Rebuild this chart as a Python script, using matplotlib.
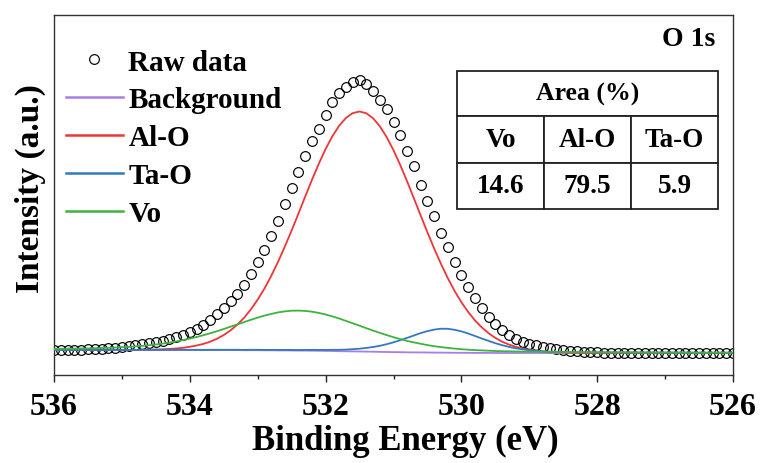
import numpy as np
import matplotlib
matplotlib.use("Agg")
import matplotlib.pyplot as plt

# ---------------- data (a.u.) ----------------
energy = np.round(np.linspace(536.0, 526.0, 101), 2)   # binding energy, eV, 0.1 eV step

raw_data = [1, 1, 1, 1.5, 1.5, 2, 2, 2.5, 3, 3.5,
            4.5, 5, 6, 7, 8, 9, 10, 12, 14, 16,
            19, 22, 26, 31, 37, 43, 50, 57, 66, 77,
            89, 101, 115, 130, 147, 163, 179, 195, 210, 222,
            236, 249, 258, 264, 269, 271, 267, 260, 251, 242,
            229, 216, 200, 185, 166, 150, 135, 118, 104, 89,
            76, 64, 53, 43, 34, 27, 21, 16, 12, 9,
            7, 6, 4.5, 3.5, 2.5, 1.5, 0.5, 0, -0.5, -1,
            -1.2, -1.5, -1.5, -1.5, -1.5, -1.5, -2, -2, -2, -2,
            -2, -2, -2, -2, -2, -2, -2, -2, -2, -2, -2]

background = [1, 1, 1, 1, 1, 1, 1, 1, 1, 1,
              1, 1, 1, 1, 1, 1, 1, 1, 1, 1,
              1, 1, 0.9, 0.9, 0.9, 0.9, 0.9, 0.9, 0.8, 0.8,
              0.8, 0.7, 0.7, 0.6, 0.6, 0.5, 0.4, 0.4, 0.3, 0.2,
              0.1, 0, -0.2, -0.3, -0.4, -0.5, -0.6, -0.7, -0.9, -1,
              -1.1, -1.2, -1.3, -1.4, -1.4, -1.5, -1.6, -1.6, -1.7, -1.8,
              -1.8, -1.8, -1.9, -1.9, -1.9, -2, -2, -2, -2, -2,
              -2, -2, -2, -2, -2, -2, -2, -2, -2, -2,
              -2, -2, -2, -2, -2, -2, -2, -2, -2, -2,
              -2, -2, -2, -2, -2, -2, -2, -2, -2, -2, -2]

al_o = [1, 1, 1, 1, 1, 1, 1, 1, 1, 1,
        1, 1.1, 1.1, 1.2, 1.3, 1.5, 1.7, 2.1, 2.5, 3.2,
        4.2, 5.5, 7.1, 9.3, 12.2, 16.0, 20.6, 26.4, 33.3, 41.6,
        51.4, 62.5, 75.2, 89.2, 104.5, 120.6, 137.4, 154.5, 171.3, 187.3,
        202.0, 214.8, 225.3, 233.1, 237.9, 239.5, 237.7, 232.7, 224.6, 213.8,
        200.8, 185.9, 169.7, 152.7, 135.6, 118.6, 102.3, 87.0, 72.8, 60.0,
        48.8, 39.0, 30.6, 23.6, 17.8, 13.1, 9.3, 6.4, 4.2, 2.5,
        1.2, 0.2, -0.5, -0.9, -1.3, -1.5, -1.7, -1.8, -1.9, -1.9,
        -2, -2, -2, -2, -2, -2, -2, -2, -2, -2,
        -2, -2, -2, -2, -2, -2, -2, -2, -2, -2, -2]

ta_o = [1.1, 1.1, 1.1, 1.1, 1.1, 1.1, 1.1, 1.1, 1.1, 1.1,
        1.1, 1.1, 1.1, 1.2, 1.2, 1.2, 1.2, 1.2, 1.2, 1.2,
        1.2, 1.2, 1.1, 1.2, 1.2, 1.2, 1.2, 1.2, 1.1, 1.2,
        1.2, 1.1, 1.1, 1.1, 1.1, 1.1, 1.0, 1.1, 1.1, 1.1,
        1.1, 1.2, 1.2, 1.4, 1.8, 2.3, 3.1, 4.0, 5.2, 6.8,
        8.7, 10.8, 13.1, 15.5, 17.9, 19.9, 21.4, 22.3, 22.2, 21.2,
        19.6, 17.5, 15.0, 12.5, 10.1, 7.8, 5.8, 4.1, 2.7, 1.7,
        0.8, 0.2, -0.3, -0.6, -0.8, -1.0, -1.2, -1.3, -1.3, -1.4,
        -1.5, -1.5, -1.5, -1.6, -1.6, -1.6, -1.6, -1.7, -1.7, -1.7,
        -1.7, -1.7, -1.8, -1.8, -1.8, -1.8, -1.8, -1.8, -1.8, -1.8, -1.8]

v_o = [2.1, 2.2, 2.3, 2.4, 2.5, 2.6, 2.8, 3, 3.2, 3.4,
       3.8, 4.1, 4.6, 5.1, 5.8, 6.5, 7.4, 8.4, 9.6, 10.9,
       12.4, 14, 15.8, 17.7, 19.8, 22, 24.3, 26.6, 28.9, 31.2,
       33.4, 35.4, 37.1, 38.6, 39.6, 40.3, 40.4, 40.1, 39.3, 38.1,
       36.5, 34.6, 32.5, 30.1, 27.7, 25.3, 22.8, 20.4, 18.1, 15.9,
       13.8, 11.9, 10.1, 8.6, 7.2, 5.9, 4.8, 3.9, 3.1, 2.4,
       1.8, 1.3, 0.9, 0.6, 0.3, 0, -0.2, -0.3, -0.5, -0.6,
       -0.7, -0.8, -0.8, -0.9, -1, -1, -1.1, -1.1, -1.2, -1.2,
       -1.2, -1.3, -1.3, -1.3, -1.3, -1.4, -1.4, -1.4, -1.4, -1.5,
       -1.5, -1.5, -1.5, -1.5, -1.5, -1.6, -1.6, -1.6, -1.6, -1.6, -1.6]

series_labels = ["Raw data", "Background", "Al-O", "Ta-O", "Vo"]
table_header = "Area (%)"
table_columns = ["Vo", "Al-O", "Ta-O"]
table_values = ["14.6", "79.5", "5.9"]
x_ticks = [536, 534, 532, 530, 528, 526]
x_minor_ticks = [535, 533, 531, 529, 527]

# ---------------- style ----------------
plt.rcParams["font.family"] = ["Liberation Serif", "DejaVu Serif"]
plt.rcParams["font.weight"] = "bold"

c_bg = "#a77ee6"
c_alo = "#ef3535"
c_tao = "#3379c2"
c_vo = "#3fb23f"

fig = plt.figure(figsize=(7.64, 4.64), dpi=100)
ax = fig.add_axes([54 / 764, (464 - 376) / 464, 679 / 764, 360 / 464])

ax.plot(energy, raw_data, linestyle="none", marker="o", markersize=7,
        markerfacecolor="none", markeredgecolor="black", markeredgewidth=0.85,
        label=series_labels[0], zorder=2)
ax.plot(energy, background, color=c_bg, lw=1.3, label=series_labels[1], zorder=3)
ax.plot(energy, al_o, color=c_alo, lw=1.3, label=series_labels[2], zorder=3)
ax.plot(energy, ta_o, color=c_tao, lw=1.3, label=series_labels[3], zorder=3)
ax.plot(energy, v_o, color=c_vo, lw=1.3, label=series_labels[4], zorder=3)

ax.set_xlim(536, 526)
ax.set_ylim(-24, 336)
ax.set_yticks([])
ax.set_xticks(x_ticks)
ax.set_xticks(x_minor_ticks, minor=True)
ax.set_xticklabels([str(t) for t in x_ticks], fontsize=23, fontweight="bold")
ax.tick_params(axis="x", which="major", direction="out", length=5, width=1,
               pad=7, colors="#222222", labelcolor="black")
ax.tick_params(axis="x", which="minor", direction="out", length=2.8, width=1,
               colors="#222222")
for sp in ax.spines.values():
    sp.set_linewidth(1.0)
    sp.set_color("#333333")

ax.set_xlabel("Binding Energy (eV)", fontsize=25, fontweight="bold")
ax.xaxis.set_label_coords(0.518, -0.135)
ax.set_ylabel("Intensity (a.u.)", fontsize=24, fontweight="bold")
ax.yaxis.set_label_coords(-0.012, 0.522)

leg = ax.legend(loc="upper left", bbox_to_anchor=(0.0, 1 - 22 / 360), frameon=False,
                handlelength=1.95, handletextpad=0.2,
                labelspacing=0.37, borderaxespad=0.0, borderpad=0.4, numpoints=1,
                prop={"weight": "bold", "size": 21})
for line in leg.get_lines():
    line.set_linewidth(1.8)

ax.text((715 - 54) / 679, 1 - (39 - 16) / 360, "O 1s", transform=ax.transAxes,
        ha="right", va="center", fontsize=20, fontweight="bold")

# ---------------- table ----------------
tx0 = (457 - 54) / 679
tw = (718 - 457) / 679
t_top = 1 - (72 - 16) / 360
t_mid = 1 - (117 - 16) / 360
t_bot = 1 - (210 - 16) / 360

head = ax.table(cellText=[[table_header]], cellLoc="center",
                bbox=[tx0, t_mid, tw, t_top - t_mid], zorder=5)
body = ax.table(cellText=[table_columns, table_values], cellLoc="center",
                bbox=[tx0, t_bot, tw, t_mid - t_bot], zorder=5)
for tb, fs in ((head, 18.5), (body, 19.5)):
    tb.auto_set_font_size(False)
    tb.set_fontsize(fs)
    for cell in tb.get_celld().values():
        cell.set_linewidth(1.3)
        cell.set_edgecolor("#222222")
        cell.set_facecolor("white")
        cell.get_text().set_fontweight("bold")
        cell.get_text().set_fontsize(fs)

fig.savefig("out.png", dpi=100)
